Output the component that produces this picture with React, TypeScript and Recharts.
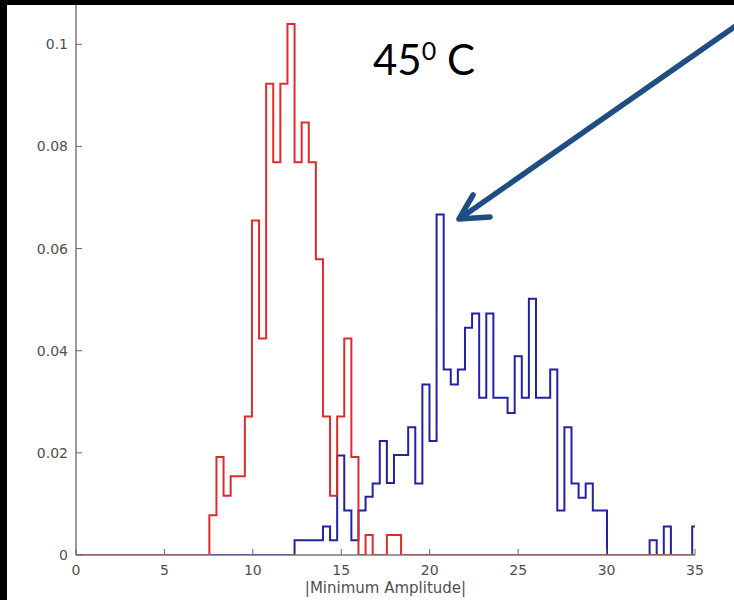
import { Line, LineChart, XAxis, YAxis } from "recharts";

// histogram bins (shared grid)
const BIN_START = 7.54;
const BIN_WIDTH = 0.4015;
const BIN_COUNT = 69;

const redDensity = [
  0.0078, 0.0192, 0.0116, 0.0154, 0.0154, 0.0271, 0.0655, 0.0424, 0.0923, 0.0769,
  0.0923, 0.104, 0.0769, 0.0847, 0.0769, 0.0579, 0.0271, 0.0116, 0.0271, 0.0424,
  0.0192, 0, 0.0039, 0, 0, 0.0039, 0.0039,
];

const blueDensity = [
  0, 0, 0, 0, 0, 0, 0, 0, 0, 0, 0, 0,
  0.0029, 0.0029, 0.0029, 0.0029,
  0.0056, 0.0029, 0.0195, 0.0087, 0.0029,
  0.0087, 0.0114, 0.014, 0.0223, 0.0141,
  0.0196, 0.0196, 0.025, 0.014, 0.0334,
  0.0223, 0.0667, 0.0363, 0.0334, 0.0363,
  0.0445, 0.0473, 0.0308, 0.0473, 0.0308,
  0.0308, 0.0278, 0.0389, 0.0308, 0.0502,
  0.0308, 0.0308, 0.0363, 0.0087, 0.025,
  0.014, 0.0112, 0.014, 0.0087, 0.0087,
  0, 0, 0, 0, 0, 0,
  0.0029, 0, 0.0056, 0, 0, 0, 0.0056,
];

const xTicks = [0, 5, 10, 15, 20, 25, 30, 35];
const yTicks = [0, 0.02, 0.04, 0.06, 0.08, 0.1];

const AXIS_TEXT = "#505050";
const AXIS_FONT = "DejaVu Sans, sans-serif";

const data = [
  { x: 0, red: 0, blue: 0 },
  ...Array.from({ length: BIN_COUNT }, (_, k) => ({
    x: BIN_START + k * BIN_WIDTH,
    red: redDensity[k] ?? 0,
    blue: blueDensity[k] ?? 0,
  })),
  { x: BIN_START + BIN_COUNT * BIN_WIDTH, red: 0, blue: 0 },
];

function XTick({ x, y, payload }: any) {
  return (
    <g>
      <line x1={x} x2={x} y1={y} y2={y - 6} stroke="#666" strokeWidth={1} />
      <text x={x} y={y + 20} textAnchor="middle" fontSize={14} fontFamily={AXIS_FONT} fill={AXIS_TEXT}>
        {payload.value}
      </text>
    </g>
  );
}

function YTick({ x, y, payload }: any) {
  return (
    <g>
      <line x1={x} x2={x + 6} y1={y} y2={y} stroke="#666" strokeWidth={1} />
      <text x={x - 8} y={y + 5} textAnchor="end" fontSize={14} fontFamily={AXIS_FONT} fill={AXIS_TEXT}>
        {payload.value}
      </text>
    </g>
  );
}

export default function App() {
  return (
    <div style={{ position: "absolute", left: 0, top: 0, width: 734, height: 600, background: "#000" }}>
      <div style={{ position: "absolute", left: 7, top: 5, width: 727, height: 595, background: "#fff" }} />
      <div style={{ position: "absolute", left: 0, top: 0 }}>
        <LineChart width={734} height={600} data={data} margin={{ top: 5, right: 39, bottom: 0, left: 0 }}>
          <XAxis
            type="number"
            dataKey="x"
            domain={[0, 35]}
            ticks={xTicks}
            allowDataOverflow
            height={45}
            tickSize={0}
            tickMargin={0}
            tickLine={false}
            axisLine={{ stroke: "#777", strokeWidth: 1.5 }}
            tick={<XTick />}
            label={{
              value: "|Minimum Amplitude|",
              position: "insideBottom",
              offset: 7,
              fill: AXIS_TEXT,
              fontSize: 15,
              fontFamily: AXIS_FONT,
            }}
          />
          <YAxis
            type="number"
            domain={[0, 0.1077]}
            ticks={yTicks}
            allowDataOverflow
            width={76}
            tickSize={0}
            tickMargin={0}
            tickLine={false}
            axisLine={{ stroke: "#777", strokeWidth: 1.5 }}
            tick={<YTick />}
          />
          <Line
            type="stepAfter"
            dataKey="blue"
            stroke="#2323a0"
            strokeWidth={2}
            dot={false}
            isAnimationActive={false}
          />
          <Line
            type="stepAfter"
            dataKey="red"
            stroke="#dd2c2c"
            strokeWidth={2}
            dot={false}
            isAnimationActive={false}
          />
        </LineChart>
      </div>
      <svg width={734} height={600} style={{ position: "absolute", left: 0, top: 0, pointerEvents: "none" }}>
        <text x={373} y={75} fontSize={42} fontFamily="Lato, sans-serif" fill="#000">
          45
          <tspan dy={-15} fontSize={25}>0</tspan>
          <tspan dy={15} fontSize={42}> C</tspan>
        </text>
        <g stroke="#1f4e84" strokeWidth={5.5} strokeLinecap="round" strokeLinejoin="round" fill="none">
          <line x1={740} y1={23} x2={462} y2={217} />
          <polyline points="473,195 459,219 490,217" />
        </g>
      </svg>
    </div>
  );
}
